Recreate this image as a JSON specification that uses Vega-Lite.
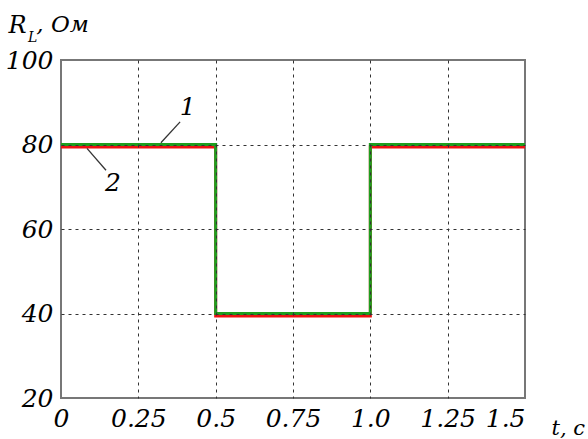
{
  "$schema": "https://vega.github.io/schema/vega-lite/v6.json",
  "width": 464,
  "height": 338,
  "autosize": "none",
  "padding": {"left": 61, "top": 60, "right": 63, "bottom": 41},
  "background": "white",
  "config": {
    "view": {"stroke": "#777777", "strokeWidth": 2},
    "font": "DejaVu Serif",
    "text": {"font": "DejaVu Serif", "fontStyle": "italic", "color": "black"}
  },
  "datasets": {
    "lines": [
      {"series": "2", "t": 0, "R": 79.4},
      {"series": "2", "t": 0.5, "R": 39.4},
      {"series": "2", "t": 1.0, "R": 79.4},
      {"series": "2", "t": 1.5, "R": 79.4},
      {"series": "1", "t": 0, "R": 80},
      {"series": "1", "t": 0.5, "R": 40},
      {"series": "1", "t": 1.0, "R": 80},
      {"series": "1", "t": 1.5, "R": 80}
    ],
    "one": [{"k": 1}]
  },
  "layer": [
    {
      "data": {"name": "lines"},
      "transform": [{"filter": "datum.series == '2'"}],
      "mark": {"type": "line", "interpolate": "step-after", "color": "#ee1111", "strokeWidth": 3},
      "encoding": {
        "x": {
          "field": "t", "type": "quantitative",
          "scale": {"domain": [0, 1.5], "nice": false, "zero": false},
          "axis": {
            "values": [0, 0.25, 0.5, 0.75, 1.0, 1.25, 1.5],
            "labelExpr": "datum.value == 1 ? '1.0' : format(datum.value, '~g')",
            "labelAlign": {"expr": "datum.value == 1.5 ? 'right' : 'center'"},
            "domain": false, "ticks": false,
            "labelFont": "DejaVu Serif", "labelFontStyle": "italic", "labelFontSize": 25, "labelColor": "black",
            "labelPadding": 8, "labelFlush": false, "labelOverlap": false,
            "grid": true, "gridDash": [3, 4], "gridColor": {"condition": {"test": "datum.value == 0 || datum.value == 1.5", "value": "transparent"}, "value": "#333333"}, "gridWidth": 1,
            "zindex": 1,
            "title": "t, c", "titleFont": "DejaVu Serif", "titleFontStyle": "italic", "titleFontWeight": "normal", "titleFontSize": 21, "titleColor": "black",
            "titleAlign": "left", "titleBaseline": "alphabetic", "titleX": 490, "titleY": 36
          }
        },
        "y": {
          "field": "R", "type": "quantitative",
          "scale": {"domain": [20, 100], "nice": false, "zero": false},
          "axis": {
            "values": [20, 40, 60, 80, 100],
            "domain": false, "ticks": false,
            "labelFont": "DejaVu Serif", "labelFontStyle": "italic", "labelFontSize": 25, "labelColor": "black",
            "labelPadding": 8, "labelFlush": false, "labelOverlap": false,
            "grid": true, "gridDash": [3, 4], "gridColor": {"condition": {"test": "datum.value == 20 || datum.value == 100", "value": "transparent"}, "value": "#333333"}, "gridWidth": 1,
            "zindex": 1,
            "title": "R", "titleFont": "DejaVu Serif", "titleFontStyle": "italic", "titleFontWeight": "normal", "titleFontSize": 24, "titleColor": "black",
            "titleAngle": 0, "titleAlign": "left", "titleBaseline": "alphabetic", "titleX": -53, "titleY": -28
          }
        }
      }
    },
    {
      "data": {"name": "lines"},
      "transform": [{"filter": "datum.series == '1'"}],
      "mark": {"type": "line", "interpolate": "step-after", "color": "#1e9e1e", "strokeWidth": 3},
      "encoding": {
        "x": {"field": "t", "type": "quantitative", "scale": {"domain": [0, 1.5], "nice": false, "zero": false}},
        "y": {"field": "R", "type": "quantitative", "scale": {"domain": [20, 100], "nice": false, "zero": false}}
      }
    },
    {
      "data": {"name": "one"},
      "mark": {"type": "rule", "color": "#333333", "strokeWidth": 1.3},
      "encoding": {
        "x": {"datum": 0.323, "type": "quantitative", "scale": {"domain": [0, 1.5], "nice": false, "zero": false}},
        "y": {"datum": 80.4, "type": "quantitative", "scale": {"domain": [20, 100], "nice": false, "zero": false}},
        "x2": {"datum": 0.385},
        "y2": {"datum": 85.35}
      }
    },
    {
      "data": {"name": "one"},
      "mark": {"type": "rule", "color": "#333333", "strokeWidth": 1.3},
      "encoding": {
        "x": {"datum": 0.084, "type": "quantitative", "scale": {"domain": [0, 1.5], "nice": false, "zero": false}},
        "y": {"datum": 79.1, "type": "quantitative", "scale": {"domain": [20, 100], "nice": false, "zero": false}},
        "x2": {"datum": 0.1455},
        "y2": {"datum": 73.9}
      }
    },
    {
      "data": {"name": "one"},
      "mark": {"type": "text", "text": "1", "fontSize": 25, "align": "center", "baseline": "middle"},
      "encoding": {
        "x": {"datum": 0.41, "type": "quantitative", "scale": {"domain": [0, 1.5], "nice": false, "zero": false}},
        "y": {"datum": 88.8, "type": "quantitative", "scale": {"domain": [20, 100], "nice": false, "zero": false}}
      }
    },
    {
      "data": {"name": "one"},
      "mark": {"type": "text", "text": "2", "fontSize": 25, "align": "center", "baseline": "middle"},
      "encoding": {
        "x": {"datum": 0.168, "type": "quantitative", "scale": {"domain": [0, 1.5], "nice": false, "zero": false}},
        "y": {"datum": 70.8, "type": "quantitative", "scale": {"domain": [20, 100], "nice": false, "zero": false}}
      }
    },
    {
      "data": {"name": "one"},
      "mark": {"type": "text", "text": "L", "fontSize": 14, "align": "left", "baseline": "alphabetic"},
      "encoding": {
        "x": {"datum": -0.107, "type": "quantitative", "scale": {"domain": [0, 1.5], "nice": false, "zero": false}},
        "y": {"datum": 104.27, "type": "quantitative", "scale": {"domain": [20, 100], "nice": false, "zero": false}}
      }
    },
    {
      "data": {"name": "one"},
      "mark": {"type": "text", "text": ", Ом", "fontSize": 23, "align": "left", "baseline": "alphabetic"},
      "encoding": {
        "x": {"datum": -0.0800, "type": "quantitative", "scale": {"domain": [0, 1.5], "nice": false, "zero": false}},
        "y": {"datum": 106.65, "type": "quantitative", "scale": {"domain": [20, 100], "nice": false, "zero": false}}
      }
    }
  ]
}
